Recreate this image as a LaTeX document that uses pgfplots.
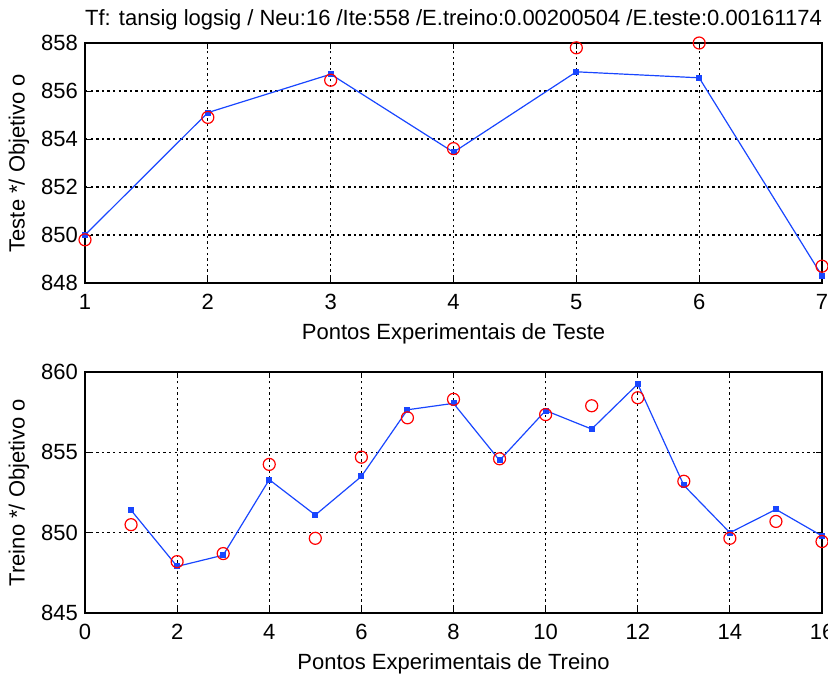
\documentclass[border=0pt]{standalone}
\usepackage{fontspec}
\setmainfont{Liberation Sans}
\usepackage{pgfplots}
\pgfplotsset{compat=1.18}
\definecolor{mblue}{RGB}{25,70,255}
\definecolor{mred}{RGB}{255,0,0}

\pgfplotsset{mstyle/.style={
  scale only axis, width=368.5pt,
  axis line style={line width=0.9pt},
  grid=major, grid style={black, line width=0.6pt, dash pattern=on 1.2pt off 1.6pt},
  tick align=inside, major tick length=3pt,
  tick style={black, line width=0.5pt},
  tick label style={font=\fontsize{11}{13}\selectfont},
  xticklabel style={yshift=-2pt},
  label style={font=\fontsize{11}{13}\selectfont},
  /pgf/number format/assume math mode=true,
  /pgf/number format/1000 sep={},
  xlabel style={at={(axis description cs:0.5,0)}, anchor=base, yshift=-28pt},
  ylabel style={at={(axis description cs:-0.0896,0.5)}, anchor=center},
  every axis title shift=0pt,
  clip=false,
}}

\begin{document}
\begin{tikzpicture}
\clip (-42.5pt,21.5pt) rectangle (371.5pt,-317pt);
% teste
\begin{axis}[mstyle, height=120pt, at={(0pt,0pt)}, anchor=north west,
  xmin=1, xmax=7, ymin=848, ymax=858,
  xtick={1,...,7}, ytick={848,850,...,858},
  title={Tf: tansig logsig / Neu:16 /Ite:558 /E.treino:0.00200504 /E.teste:0.00161174},
  title style={at={(axis description cs:0.5,1)}, anchor=base, yshift=9pt,
    font=\fontsize{11}{13}\selectfont},
  xlabel={Pontos Experimentais de Teste},
  ylabel={Teste */ Objetivo o},
]
\addplot[mblue, line width=0.6pt, mark=square*, mark size=1.2pt] coordinates
  {(1,850.0)(2,855.1)(3,856.7)(4,853.45)(5,856.8)(6,856.55)(7,848.3)};
\addplot[only marks, mred, mark=o, mark size=3pt, mark options={line width=0.6pt}] coordinates
  {(1,849.8)(2,854.9)(3,856.45)(4,853.6)(5,857.8)(6,858.0)(7,848.7)};
\end{axis}
% treino
\begin{axis}[mstyle, height=120.5pt, at={(0pt,-164.5pt)}, anchor=north west,
  xmin=0, xmax=16, ymin=845, ymax=860,
  xtick={0,2,...,16}, ytick={845,850,855,860},
  xlabel={Pontos Experimentais de Treino},
  ylabel={Treino */ Objetivo o},
]
\addplot[mblue, line width=0.6pt, mark=square*, mark size=1.2pt] coordinates
  {(1,851.4)(2,847.9)(3,848.6)(4,853.3)(5,851.1)(6,853.5)(7,857.65)(8,858.05)
   (9,854.5)(10,857.6)(11,856.45)(12,859.25)(13,852.95)(14,850.0)(15,851.45)(16,849.8)};
\addplot[only marks, mred, mark=o, mark size=3pt, mark options={line width=0.6pt}] coordinates
  {(1,850.5)(2,848.2)(3,848.7)(4,854.25)(5,849.65)(6,854.7)(7,857.15)(8,858.3)
   (9,854.6)(10,857.35)(11,857.9)(12,858.4)(13,853.2)(14,849.65)(15,850.7)(16,849.45)};
\end{axis}
\end{tikzpicture}
\end{document}
